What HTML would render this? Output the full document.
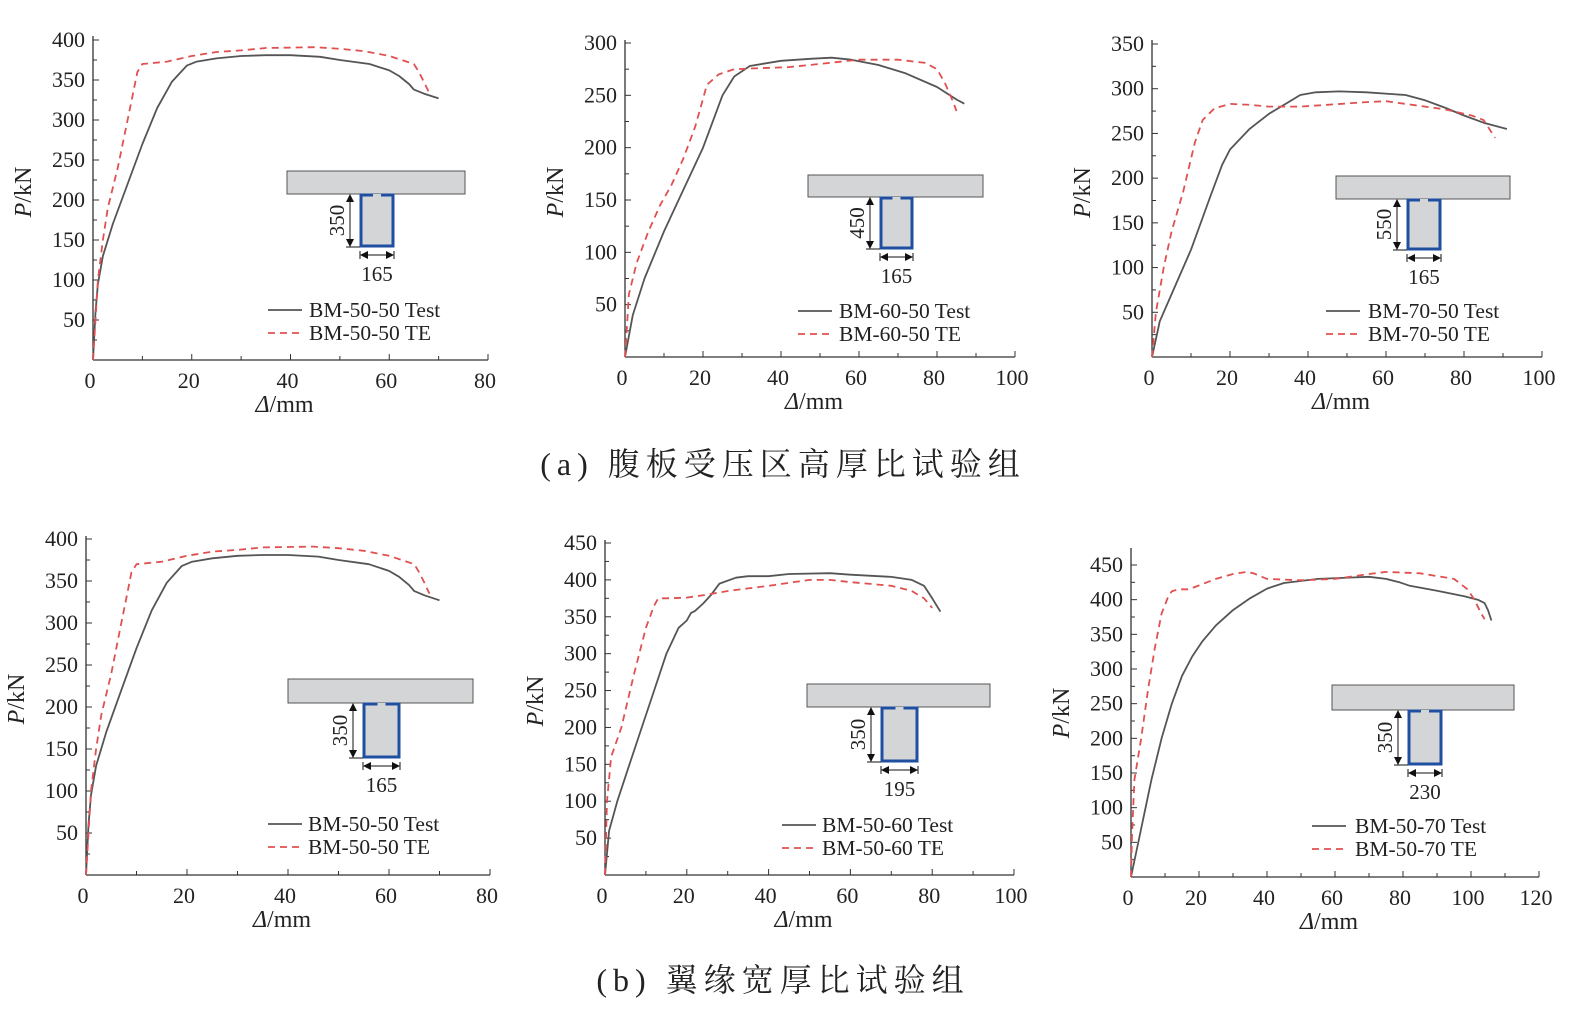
<!DOCTYPE html>
<html><head><meta charset="utf-8">
<style>
body{margin:0;background:#fff;}
svg{display:block;font-family:"Liberation Serif","Noto Serif CJK SC",serif;}
</style></head>
<body>
<svg id="s" width="1572" height="1024" viewBox="0 0 1572 1024" xmlns="http://www.w3.org/2000/svg">
<text x="783" y="475" font-size="32" text-anchor="middle" fill="#222" letter-spacing="6">(a) 腹板受压区高厚比试验组</text>
<text x="783" y="991" font-size="32" text-anchor="middle" fill="#222" letter-spacing="6">(b) 翼缘宽厚比试验组</text>
</svg>
<script>
const P=[
{x0:93,x1:488,xmax:80,xstep:20,y0:360,ytop:40,ymax:400,ystep:50,axisTop:36,
 name:"BM-50-50",h:"350",w:"165",fl:[287,465,171,194],web:[360,394,247],lg:[268,302,309,310],
 T:[[0,0],[0.5,60],[1,95],[2,130],[4,170],[7,220],[10,270],[13,315],[16,348],[19,368],[21,373],[25,377],[30,380],[35,381],[40,381],[46,379],[50,375],[56,370],[60,362],[62,355],[64,345],[65,338],[67,333],[70,327]],
 E:[[0,0],[0.5,50],[1,100],[2,150],[3,190],[5,240],[7,300],[8,330],[9,360],[10,370],[15,373],[20,380],[25,385],[30,387],[35,390],[45,391],[50,389],[55,386],[60,380],[65,370],[66,360],[67,348],[68,335]]},
{x0:625,x1:1015,xmax:100,xstep:20,y0:357,ytop:43,ymax:300,ystep:50,axisTop:40,
 name:"BM-60-50",h:"450",w:"165",fl:[808,983,175,197],web:[880,913,249],lg:[798,832,839,311],
 T:[[0,0],[2,40],[5,75],[10,120],[15,160],[20,200],[23,230],[25,250],[28,268],[32,278],[40,283],[48,285],[53,286],[58,284],[65,279],[72,271],[80,258],[85,246],[87,242]],
 E:[[0,0],[0.5,30],[1,60],[3,90],[6,120],[9,145],[12,165],[15,190],[18,220],[21,260],[24,270],[28,275],[35,276],[42,277],[50,280],[60,284],[70,284],[77,281],[80,275],[82,262],[84,245],[85,235]]},
{x0:1152,x1:1542,xmax:100,xstep:20,y0:357,ytop:44,ymax:350,ystep:50,axisTop:40,
 name:"BM-70-50",h:"550",w:"165",fl:[1336,1510,176,199],web:[1407,1441,250],lg:[1326,1360,1368,311],
 T:[[0,0],[2,40],[5,70],[10,120],[15,180],[18,215],[20,232],[25,255],[30,272],[35,285],[38,293],[42,296],[48,297],[55,296],[65,293],[70,287],[75,279],[80,270],[85,262],[91,255]],
 E:[[0,0],[1,50],[3,100],[5,140],[8,185],[11,240],[13,265],[16,278],[20,283],[25,282],[30,280],[38,280],[45,282],[55,285],[60,286],[65,283],[75,277],[82,270],[85,265],[88,245]]},
{x0:86,x1:490,xmax:80,xstep:20,y0:875,ytop:539,ymax:400,ystep:50,axisTop:536,
 name:"BM-50-50",h:"350",w:"165",fl:[288,473,679,703],web:[363,400,758],lg:[268,302,308,824],
 T:null,E:null},
{x0:605,x1:1014,xmax:100,xstep:20,y0:875,ytop:543,ymax:450,ystep:50,axisTop:540,
 name:"BM-50-60",h:"350",w:"195",fl:[807,990,684,707],web:[881,918,762],lg:[782,816,822,825],
 T:[[0,0],[1,60],[3,100],[6,150],[9,200],[12,250],[15,300],[18,335],[20,345],[21,355],[22,358],[24,368],[26,380],[28,395],[32,403],[35,405],[40,405],[45,408],[55,409],[60,407],[70,404],[75,400],[78,392],[80,375],[82,357]],
 E:[[0,0],[0.5,100],[1.5,160],[4,200],[7,270],[10,335],[12,365],[13,375],[15,375],[20,376],[25,380],[30,385],[40,392],[50,400],[55,400],[60,397],[70,392],[75,385],[78,375],[80,362]]},
{x0:1131,x1:1539,xmax:120,xstep:20,y0:877,ytop:565,ymax:450,ystep:50,axisTop:548,
 name:"BM-50-70",h:"350",w:"230",fl:[1332,1514,685,710],web:[1408,1442,765],lg:[1312,1346,1355,826],
 T:[[0,0],[3,70],[6,140],[9,200],[12,250],[15,290],[18,318],[21,340],[25,363],[30,385],[35,402],[40,416],[45,424],[55,430],[65,432],[70,433],[75,430],[79,425],[82,420],[90,413],[98,405],[102,400],[104,395],[105,385],[106,370]],
 E:[[0,0],[0.3,60],[1,140],[3,200],[5,270],[7,330],[9,380],[11,405],[12,412],[14,415],[17,415],[25,430],[30,437],[34,440],[36,438],[40,430],[50,428],[60,430],[70,437],[75,440],[85,438],[95,430],[99,415],[101,400],[103,380],[104,372]]}
];
P[3].T=P[0].T;P[3].E=P[0].E;
let h='';
const C='#333';
P.forEach(p=>{
 const sx=v=>p.x0+(p.x1-p.x0)*v/p.xmax, sy=v=>p.y0-(p.y0-p.ytop)*v/p.ymax;
 h+=`<line x1="${p.x0}" y1="${p.y0}" x2="${p.x1}" y2="${p.y0}" stroke="${C}" stroke-width="1.3"/>`;
 h+=`<line x1="${p.x0}" y1="${p.y0}" x2="${p.x0}" y2="${p.axisTop}" stroke="${C}" stroke-width="1.3"/>`;
 for(let v=0;v<=p.xmax;v+=p.xstep/2){const x=sx(v),maj=(v%p.xstep==0);
  h+=`<line x1="${x}" y1="${p.y0}" x2="${x}" y2="${p.y0-(maj?6:4)}" stroke="${C}" stroke-width="1"/>`;
  if(maj)h+=`<text x="${x-3}" y="${p.y0+28}" font-size="22" text-anchor="middle" fill="#222">${v}</text>`;}
 for(let v=p.ystep/2;v<=p.ymax;v+=p.ystep/2){const y=sy(v),maj=(v%p.ystep==0);
  h+=`<line x1="${p.x0}" y1="${y}" x2="${p.x0+(maj?6:4)}" y2="${y}" stroke="${C}" stroke-width="1"/>`;
  if(maj)h+=`<text x="${p.x0-8}" y="${y+7}" font-size="22" text-anchor="end" fill="#222">${v}</text>`;}
 const mx=(p.x0+p.x1)/2-6;
 h+=`<text x="${mx}" y="${p.y0+52}" font-size="24" text-anchor="middle" fill="#222"><tspan font-style="italic">Δ</tspan>/mm</text>`;
 const my=(p.y0+p.ytop)/2-8;
 h+=`<text transform="translate(${p.x0-62},${my}) rotate(-90)" font-size="24" text-anchor="middle" fill="#222"><tspan font-style="italic">P</tspan>/kN</text>`;
 const pts=a=>a.map(q=>sx(q[0]).toFixed(1)+','+sy(q[1]).toFixed(1)).join(' ');
 h+=`<polyline points="${pts(p.T)}" fill="none" stroke="#555" stroke-width="1.8" stroke-linejoin="round"/>`;
 h+=`<polyline points="${pts(p.E)}" fill="none" stroke="#e05050" stroke-width="1.8" stroke-dasharray="7,5"/>`;
 const [fa,fb,fc,fd]=p.fl,[wa,wb,wc]=p.web;
 h+=`<rect x="${fa}" y="${fc}" width="${fb-fa}" height="${fd-fc}" fill="#d4d5d7" stroke="#555" stroke-width="1"/>`;
 h+=`<rect x="${wa}" y="${fd}" width="${wb-wa}" height="${wc-fd}" fill="#d4d5d7"/>`;
 const gm=(wa+wb)/2;
 h+=`<path d="M${gm-4},${fd+1} H${wa+1} V${wc-1} H${wb-1} V${fd+1} H${gm+4}" fill="none" stroke="#1f4fa0" stroke-width="3"/>`;
 const ax=wa-10;
 h+=`<line x1="${ax}" y1="${fd+6}" x2="${ax}" y2="${wc-6}" stroke="#111" stroke-width="1"/>`;
 h+=`<path d="M${ax-4},${fd+8} L${ax},${fd} L${ax+4},${fd+8}Z M${ax-4},${wc-8} L${ax},${wc} L${ax+4},${wc-8}Z" fill="#111"/>`;
 h+=`<line x1="${ax-4}" y1="${wc}" x2="${wa}" y2="${wc}" stroke="#111" stroke-width="1"/>`;
 h+=`<text transform="translate(${ax-6},${(fd+wc)/2}) rotate(-90)" font-size="21" text-anchor="middle" fill="#222">${p.h}</text>`;
 const by=wc+8;
 h+=`<line x1="${wa+6}" y1="${by}" x2="${wb-6}" y2="${by}" stroke="#111" stroke-width="1"/>`;
 h+=`<path d="M${wa+8},${by-4} L${wa},${by} L${wa+8},${by+4}Z M${wb-8},${by-4} L${wb},${by} L${wb-8},${by+4}Z" fill="#111"/>`;
 h+=`<line x1="${wa}" y1="${by-4}" x2="${wa}" y2="${by+4}" stroke="#111"/><line x1="${wb}" y1="${by-4}" x2="${wb}" y2="${by+4}" stroke="#111"/>`;
 h+=`<text x="${gm}" y="${by+26}" font-size="21" text-anchor="middle" fill="#222">${p.w}</text>`;
 const [la,lb,lt,ly]=p.lg;
 h+=`<line x1="${la}" y1="${ly}" x2="${lb}" y2="${ly}" stroke="#555" stroke-width="1.8"/>`;
 h+=`<text x="${lt}" y="${ly+7}" font-size="21.5" fill="#222">${p.name} Test</text>`;
 h+=`<line x1="${la}" y1="${ly+23}" x2="${lb}" y2="${ly+23}" stroke="#e05050" stroke-width="1.8" stroke-dasharray="7,5"/>`;
 h+=`<text x="${lt}" y="${ly+30}" font-size="21.5" fill="#222">${p.name} TE</text>`;
});
document.getElementById('s').insertAdjacentHTML('beforeend',h);
</script>
</body></html>
